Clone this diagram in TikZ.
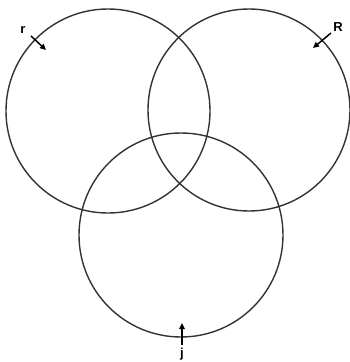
\documentclass[tikz,border=0pt]{standalone}
\usepackage{fontspec}
\setmainfont{Liberation Sans}
\usetikzlibrary{arrows.meta}
\begin{document}
\begin{tikzpicture}[x=1pt,y=-1pt,
  ring/.style={draw=black!80,line width=1.4pt},
  pointer/.style={-{Triangle[length=6pt,width=5.5pt]},line width=1.5pt,black},
  lbl/.style={font=\fontsize{13}{13}\selectfont\bfseries,inner sep=0pt}]
\useasboundingbox (0,0) rectangle (350,362);
\node[ring,circle,minimum size=204pt,inner sep=0pt] (L) at (108,111) {};
\node[ring,circle,minimum size=202pt,inner sep=0pt] (Rc) at (249,110) {};
\node[ring,circle,minimum size=204pt,inner sep=0pt] (B) at (181,235) {};
\node[lbl] (r) at (23,30) {r};
\node[lbl] (R) at (338,27) {R};
\node[lbl] (j) at (182,354) {j};
\coordinate (rs) at (31,36);
\coordinate (re) at (46,50);
\coordinate (Rs) at (331,33);
\coordinate (Re) at (313,48);
\coordinate (js) at (182,345);
\coordinate (je) at (182,323);
\draw[pointer] (rs) -- (re);
\draw[pointer] (Rs) -- (Re);
\draw[pointer] (js) -- (je);
\end{tikzpicture}
\end{document}
